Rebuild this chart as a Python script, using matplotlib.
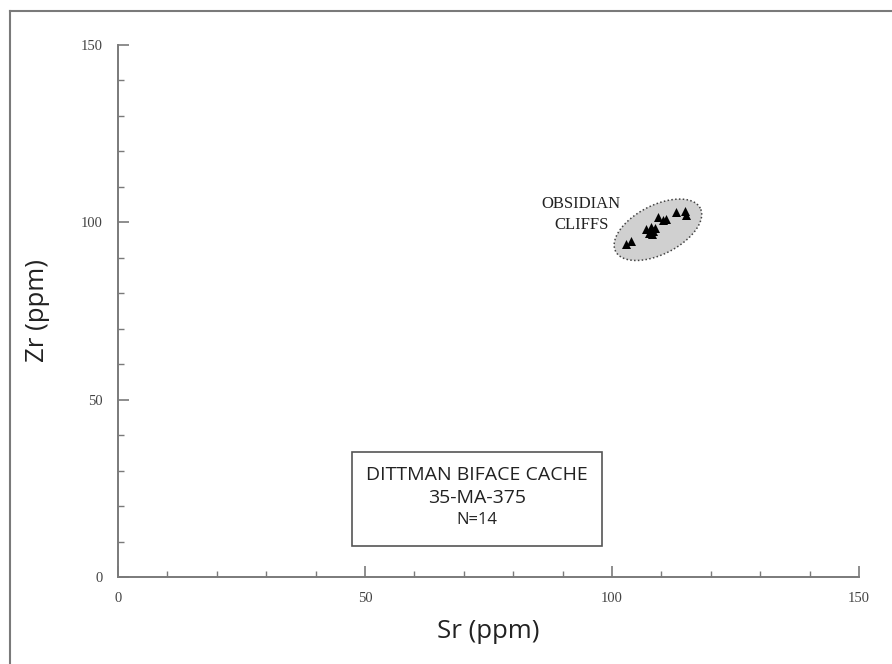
import numpy as np
import matplotlib
matplotlib.use("Agg")
import matplotlib.pyplot as plt
from matplotlib.patches import Polygon, Rectangle
from matplotlib.lines import Line2D
from matplotlib.ticker import MultipleLocator

# Data (Sr, Zr in ppm) - Obsidian Cliffs, Dittman Biface Cache
sr = [102.8, 103.8, 106.8, 107.5, 107.8, 108.3, 108.8, 108.0,
      109.3, 110.3, 111.0, 113.0, 114.8, 115.0]
zr = [94.0, 94.7, 98.2, 97.0, 98.8, 97.6, 98.4, 96.8,
      101.6, 100.6, 101.0, 102.9, 103.3, 102.2]

x_ticks = [0, 50, 100, 150]
y_ticks = [0, 50, 100, 150]
source_label = "OBSIDIAN\nCLIFFS"
box_lines = ["DITTMAN BIFACE CACHE", "35-MA-375", "N=14"]

fig = plt.figure(figsize=(8.92, 6.64), dpi=100)
ax = fig.add_axes([118/892, 1-577/664, (859-118)/892, (577-45)/664])
ax.set_xlim(0, 150)
ax.set_ylim(0, 150)

gray = "#7a7a7a"
for s in ["top", "right"]:
    ax.spines[s].set_visible(False)
for s in ["left", "bottom"]:
    ax.spines[s].set_color(gray)
    ax.spines[s].set_linewidth(1.4)

ax.xaxis.set_minor_locator(MultipleLocator(10))
ax.yaxis.set_minor_locator(MultipleLocator(10))
ax.set_xticks(x_ticks)
ax.set_yticks(y_ticks)
ax.set_xticklabels([str(v) for v in x_ticks])
ax.set_yticklabels([str(v) for v in y_ticks])
ax.tick_params(which="major", direction="in", length=8, width=1.2, color=gray,
               labelsize=10.5, labelcolor="#444444", pad=11)
ax.tick_params(which="minor", direction="in", length=4.5, width=1.0, color=gray)
for lab in ax.get_xticklabels() + ax.get_yticklabels():
    lab.set_family("Liberation Serif")

# ellipse around the cluster (defined in pixel scale, converted to data)
cx, cy = 109.3, 97.9
sx = (859-118)/150.0   # px per unit x
sy = (577-45)/150.0    # px per unit y
a_px, b_px, th = 47.5, 24.5, np.deg2rad(27)
t = np.linspace(0, 2*np.pi, 200)
px = a_px*np.cos(t)*np.cos(th) - b_px*np.sin(t)*np.sin(th)
py = a_px*np.cos(t)*np.sin(th) + b_px*np.sin(t)*np.cos(th)
poly = Polygon(np.column_stack([cx + px/sx, cy + py/sy]), closed=True,
               facecolor="#d0d0d0", edgecolor="#444444", linestyle=(0, (1, 1.5)),
               linewidth=1.1, zorder=2)
ax.add_patch(poly)

ax.scatter(sr, zr, marker="^", s=42, color="black", zorder=3, linewidths=0)

ax.text(93.8, 102.2, source_label, ha="center", va="center", fontsize=12,
        family="Liberation Serif", color="#222222", linespacing=1.45)

ax.add_patch(Rectangle((47.4, 8.7), 50.5, 26.5, facecolor="white",
                       edgecolor="#555555", linewidth=1.2, zorder=4))
ys = [28.9, 22.2, 16.0]
sizes = [14, 14, 12]
for txt, yy, fs in zip(box_lines, ys, sizes):
    ax.text(72.6, yy, txt, ha="center", va="center", fontsize=fs,
            family="Open Sans", color="#222222", zorder=5)

ax.set_xlabel("Sr (ppm)", fontsize=18.5, family="Open Sans", color="#222222", labelpad=10)
ax.set_ylabel("Zr (ppm)", fontsize=18.5, family="Open Sans", color="#222222", labelpad=22)

# figure border (left & top visible)
fig.add_artist(Line2D([10/892, 10/892], [0, 1-11/664], transform=fig.transFigure,
                      color=gray, linewidth=1.5))
fig.add_artist(Line2D([10/892, 1], [1-11/664, 1-11/664], transform=fig.transFigure,
                      color=gray, linewidth=1.5))

fig.savefig("out.png", dpi=100)
